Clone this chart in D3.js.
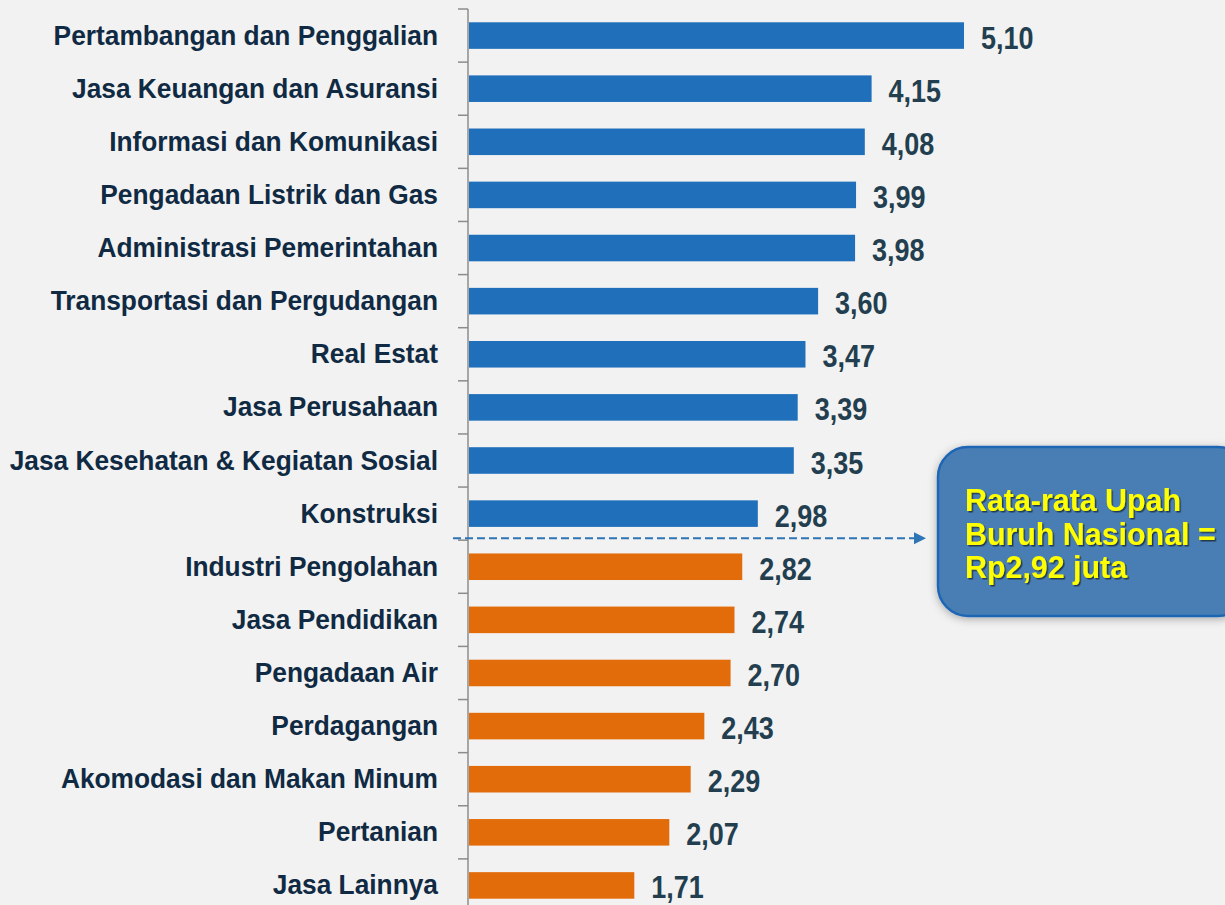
<!DOCTYPE html>
<html>
<head>
<meta charset="utf-8">
<script src="https://cdn.jsdelivr.net/npm/d3@7"></script>
<style>
  html, body { margin: 0; padding: 0; background: #f2f2f2; }
  svg { display: block; }
</style>
</head>
<body>
<svg id="chart" width="1225" height="905"></svg>
<script>
// Rata-rata upah buruh per sektor (juta rupiah)
const categories = [
  "Pertambangan dan Penggalian",
  "Jasa Keuangan dan Asuransi",
  "Informasi dan Komunikasi",
  "Pengadaan Listrik dan Gas",
  "Administrasi Pemerintahan",
  "Transportasi dan Pergudangan",
  "Real Estat",
  "Jasa Perusahaan",
  "Jasa Kesehatan & Kegiatan Sosial",
  "Konstruksi",
  "Industri Pengolahan",
  "Jasa Pendidikan",
  "Pengadaan Air",
  "Perdagangan",
  "Akomodasi dan Makan Minum",
  "Pertanian",
  "Jasa Lainnya"
];
const wages = [5.10, 4.15, 4.08, 3.99, 3.98, 3.60, 3.47, 3.39, 3.35, 2.98,
               2.82, 2.74, 2.70, 2.43, 2.29, 2.07, 1.71];
const nationalAverage = 2.92;
const calloutLines = ["Rata-rata Upah", "Buruh Nasional =", "Rp2,92 juta"];

const svg = d3.select("#chart");
const fontFamily = "'Liberation Sans', Arial, sans-serif";

const x0 = 468;
const x = d3.scaleLinear().domain([0, 5.10]).range([x0, 964]);
const y = d3.scaleBand().domain(categories).range([9, 912]).paddingInner(0.5).paddingOuter(0.25);

const fmt = v => d3.format(".2f")(v).replace(".", ",");

svg.append("rect").attr("width", 1225).attr("height", 905).attr("fill", "#f2f2f2");

// Bars: above the national average in blue, below it in orange
svg.append("g").selectAll("rect")
  .data(categories)
  .join("rect")
  .attr("x", x(0) + 1)
  .attr("y", d => y(d))
  .attr("width", (d, i) => x(wages[i]) - x(0) - 1)
  .attr("height", y.bandwidth())
  .attr("fill", (d, i) => wages[i] >= nationalAverage ? "#1f6fba" : "#e36c0a");

// Category axis with tick marks at band boundaries
const axis = svg.append("g");
axis.append("line")
  .attr("x1", x0).attr("x2", x0)
  .attr("y1", y.range()[0]).attr("y2", 905)
  .attr("stroke", "#8c8c8c").attr("stroke-width", 1.5);
const bounds = categories.map(d => y(d) - y.step() * y.paddingOuter());
axis.selectAll("line.tick")
  .data(bounds)
  .join("line")
  .attr("class", "tick")
  .attr("x1", x0 - 10).attr("x2", x0)
  .attr("y1", d => d).attr("y2", d => d)
  .attr("stroke", "#8c8c8c").attr("stroke-width", 1.5);

// Category labels (condensed bold)
svg.append("g").selectAll("text")
  .data(categories)
  .join("text")
  .attr("transform", d => `translate(438,${y(d) + y.bandwidth() / 2 + 9}) scale(0.94,1)`)
  .attr("text-anchor", "end")
  .attr("font-family", fontFamily)
  .attr("font-weight", "bold")
  .attr("font-size", 28)
  .attr("fill", "#102a43")
  .text(d => d);

// Value labels
svg.append("g").selectAll("text")
  .data(categories)
  .join("text")
  .attr("transform", (d, i) => `translate(${x(wages[i]) + 17},${y(d) + y.bandwidth() / 2 + 13}) scale(0.87,1)`)
  .attr("font-family", fontFamily)
  .attr("font-weight", "bold")
  .attr("font-size", 31)
  .attr("fill", "#233f4f")
  .text((d, i) => fmt(wages[i]));

// Dashed reference line pointing to the callout
const refY = y(categories[9]) + y.bandwidth() + (y.step() - y.bandwidth()) / 2 - 2;
const defs = svg.append("defs");
svg.append("line")
  .attr("x1", 453).attr("x2", 915)
  .attr("y1", refY).attr("y2", refY)
  .attr("stroke", "#2e75b6").attr("stroke-width", 2)
  .attr("stroke-dasharray", "8,4");
svg.append("path")
  .attr("d", `M914,${refY - 6} L926,${refY} L914,${refY + 6} Z`)
  .attr("fill", "#2e75b6");

// Callout box
const shadow = defs.append("filter").attr("id", "shadow").attr("x", "-20%").attr("y", "-20%").attr("width", "140%").attr("height", "140%");
shadow.append("feDropShadow").attr("dx", 0).attr("dy", 2).attr("stdDeviation", 4).attr("flood-color", "#000").attr("flood-opacity", 0.3);
const textShadow = defs.append("filter").attr("id", "tshadow");
textShadow.append("feDropShadow").attr("dx", 1.5).attr("dy", 1.5).attr("stdDeviation", 0.6).attr("flood-color", "#000").attr("flood-opacity", 0.55);

svg.append("rect")
  .attr("x", 938).attr("y", 447)
  .attr("width", 310).attr("height", 169)
  .attr("rx", 30).attr("ry", 30)
  .attr("fill", "#4a7eb4")
  .attr("stroke", "#1f66b3").attr("stroke-width", 2.5)
  .attr("filter", "url(#shadow)");

svg.append("g").attr("filter", "url(#tshadow)")
  .selectAll("text")
  .data(calloutLines)
  .join("text")
  .attr("transform", (d, i) => `translate(965,${511 + i * 33.5}) scale(0.98,1)`)
  .attr("font-family", fontFamily)
  .attr("font-weight", "bold")
  .attr("font-size", 31)
  .attr("fill", "#ffff00")
  .text(d => d);
</script>
</body>
</html>
